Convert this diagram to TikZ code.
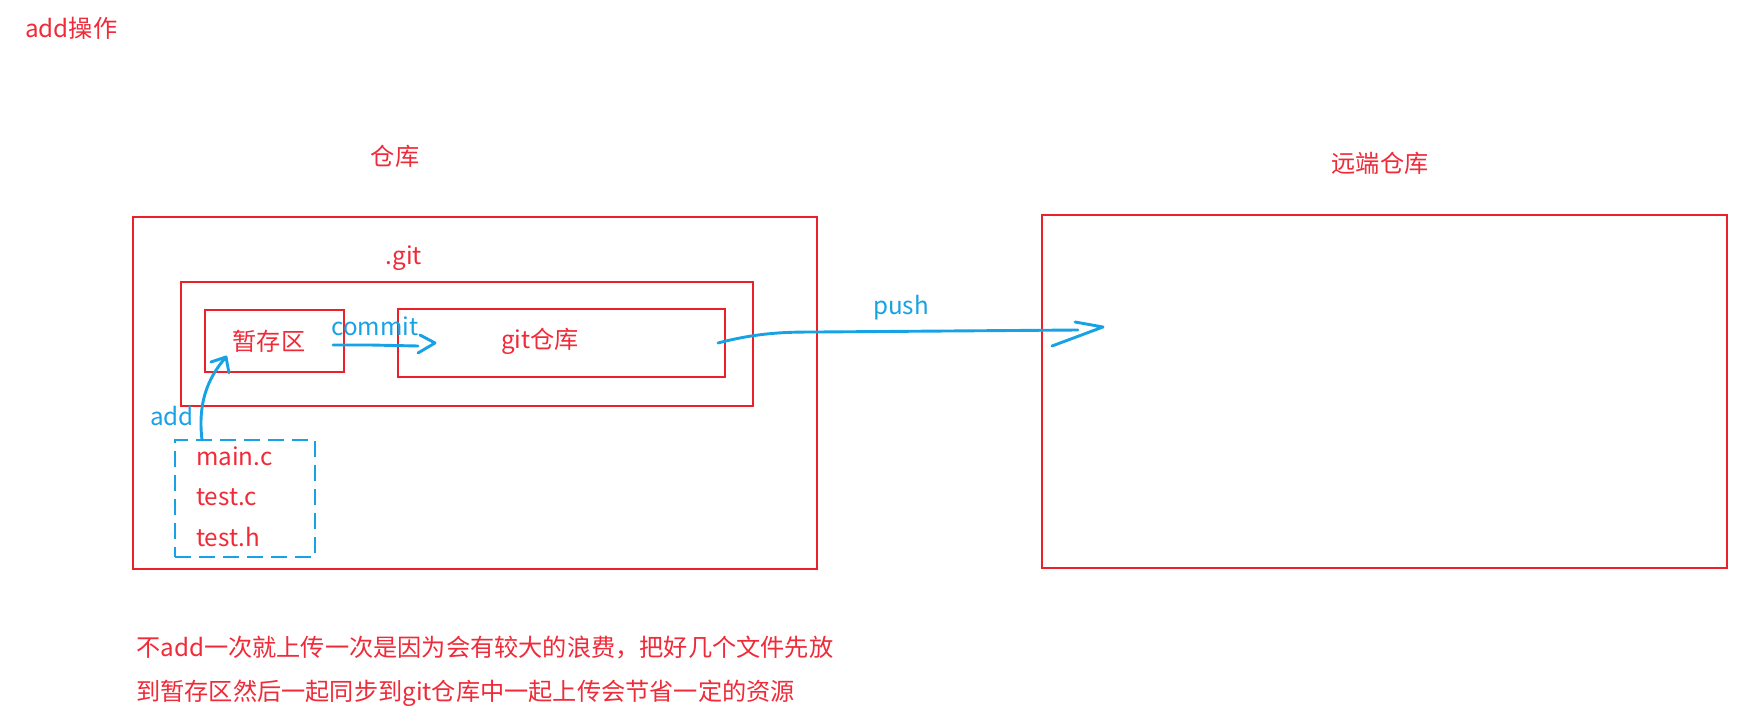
\documentclass[tikz,border=0pt]{standalone}
\usepackage{fontspec}
\setmainfont{Noto Sans CJK SC}
\definecolor{rd}{RGB}{236,32,40}
\definecolor{txtrd}{RGB}{240,42,56}
\definecolor{bl}{RGB}{22,162,228}
\begin{document}
\begin{tikzpicture}[x=1pt,y=-1pt,
  redbox/.style={draw=rd,line width=2.9pt,inner sep=0pt},
  dashbox/.style={draw=bl,line width=2.9pt,inner sep=0pt,dash pattern=on 16pt off 8pt},
  rtxt/.style={text=txtrd,inner sep=0pt,font=\fontsize{24.2}{28}\selectfont},
  btxt/.style={text=bl,inner sep=0pt,font=\fontsize{24.2}{28}\selectfont},
  hand/.style={draw=bl,line width=2.9pt,line cap=round,line join=round}]
\useasboundingbox[fill=white] (0,0) rectangle (1752,714);
% boxes
\node[redbox,minimum width=684pt,minimum height=352pt] (repo) at (475,393) {};
\node[redbox,minimum width=572pt,minimum height=124pt] (gitdir) at (467,344) {};
\node[redbox,minimum width=139pt,minimum height=62pt] (stage) at (274.5,341) {};
\node[redbox,minimum width=327pt,minimum height=68pt] (gitrepo) at (561.5,343) {};
\node[redbox,minimum width=685pt,minimum height=353pt] (remote) at (1384.5,391.5) {};
\node[dashbox,minimum width=140pt,minimum height=117pt] (files) at (245,498.5) {};
% texts
\node[rtxt,anchor=west] (title) at (25,28) {add操作};
\node[rtxt] (repolbl) at (395,156) {仓库};
\node[rtxt] (remotelbl) at (1380,163) {远端仓库};
\node[rtxt] (gitlbl) at (404,258) {.git};
\node[rtxt] (stagelbl) at (269,341) {暂存区};
\node[rtxt] (gitrepolbl) at (540,341) {git仓库};
\node[btxt] (commitlbl) at (375,326) {commit};
\node[btxt] (pushlbl) at (901,308) {push};
\node[btxt] (addlbl) at (172,416) {add};
\node[rtxt,anchor=west] (mainc) at (196,456) {main.c};
\node[rtxt,anchor=west] (testc) at (196,497) {test.c};
\node[rtxt,anchor=west] (testh) at (196,537) {test.h};
\node[rtxt,anchor=west] (note1) at (136,648) {不add一次就上传一次是因为会有较大的浪费，把好几个文件先放};
\node[rtxt,anchor=west] (note2) at (136,693) {到暂存区然后一起同步到git仓库中一起上传会节省一定的资源};
% arrow coordinates
\coordinate (cs) at (333,345);
\coordinate (ce) at (418,346);
\coordinate (ct) at (435,343);
\coordinate (as) at (202,440);
\coordinate (at) at (226,357);
\coordinate (ps) at (718,343);
\coordinate (pm) at (817,332);
\coordinate (pe) at (1078,330);
\coordinate (pt) at (1103,327);
% commit arrow
\draw[hand] (cs) -- (370,345) -- (ce);
\draw[hand] (420,335) -- (ct) -- (418,353);
% add arrow
\draw[hand] (as) .. controls (198,405) and (206,380) .. (at);
\draw[hand] (211,362) -- (at) -- (229,373);
% push arrow
\draw[hand] (ps) .. controls (760,332) and (790,332) .. (pm) -- (pe);
\draw[hand] (1075,322) -- (pt) -- (1052,346);
\end{tikzpicture}
\end{document}
